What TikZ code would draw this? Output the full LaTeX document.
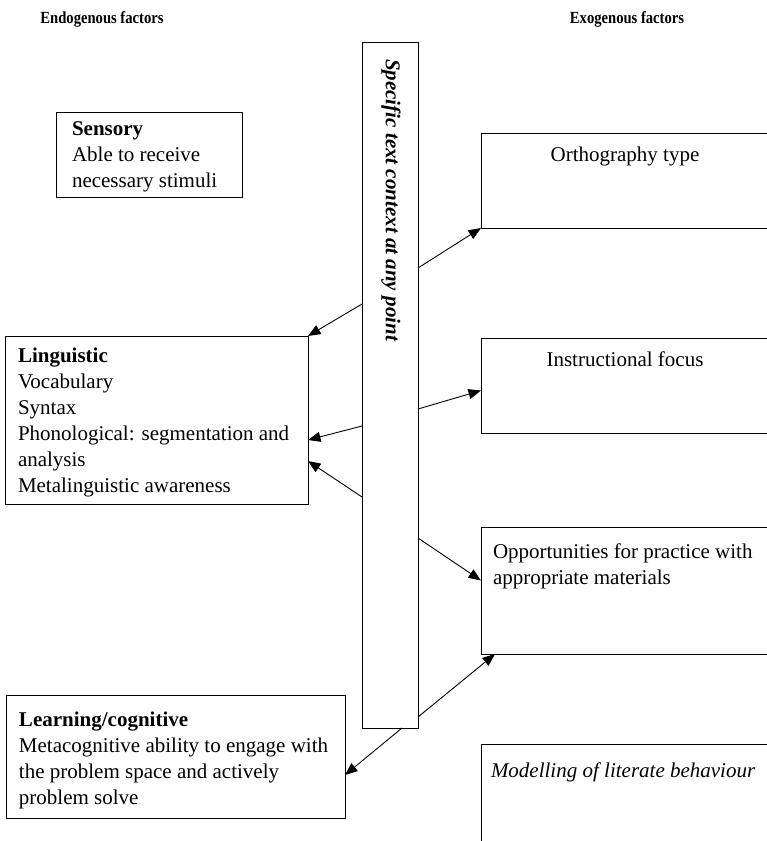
\documentclass[tikz,border=0pt]{standalone}
\usepackage{fontspec}
\setmainfont{Liberation Serif}
\newfontfamily\condfont[FakeStretch=0.86]{Liberation Serif}
\usetikzlibrary{arrows.meta,calc}
\begin{document}
\begin{tikzpicture}[x=1pt,y=-1pt,
  box/.style={draw,line width=0.9pt,inner sep=0pt,outer sep=0pt},
  txt/.style={inner sep=0pt,outer sep=0pt,align=left,anchor=north west,font=\fontsize{21}{26}\selectfont},
  ctxt/.style={inner sep=0pt,outer sep=0pt,anchor=base,font=\fontsize{21}{26}\selectfont},
  title/.style={inner sep=0pt,outer sep=0pt,anchor=base,font=\condfont\bfseries\fontsize{17}{20}\selectfont},
  conn/.style={line width=0.9pt,-{Triangle[length=12.5pt,width=10pt]}}]
\useasboundingbox (0,0) rectangle (767,841);
\clip (0,0) rectangle (767,841);
% titles
\node[title] (tendo) at (102,23) {Endogenous factors};
\node[title] (texo) at (627,23) {Exogenous factors};
% central bar
\node[box, minimum width=56pt, minimum height=686pt] (bar) at (390,385) {};
\node[inner sep=0pt, rotate=-90, font=\bfseries\itshape\fontsize{21}{26}\selectfont] (bartext) at (391,200) {Specific text context at any point};
% left boxes
\node[box, minimum width=186pt, minimum height=85pt] (sens) at (149,154.5) {};
\node[txt] (senst) at (72,120) {\rule{0pt}{15pt}\textbf{Sensory}\\Able to receive\\necessary stimuli};
\node[box, minimum width=303pt, minimum height=168pt] (ling) at (156.5,420) {};
\node[txt] (lingt) at (18,347) {\rule{0pt}{15pt}\textbf{Linguistic}\\Vocabulary\\Syntax\\Phonological: segmentation and\\analysis\\Metalinguistic awareness};
\node[box, minimum width=339pt, minimum height=123pt] (learn) at (175.5,756.5) {};
\node[txt] (learnt) at (19,711) {\rule{0pt}{15pt}\textbf{Learning/cognitive}\\Metacognitive ability to engage with\\the problem space and actively\\problem solve};
% right boxes
\node[box, minimum width=330pt, minimum height=95pt] (orth) at (646,180.5) {};
\node[ctxt] (ortht) at (625,161) {Orthography type};
\node[box, minimum width=330pt, minimum height=95pt] (instr) at (646,385.5) {};
\node[ctxt] (instrt) at (625,366) {Instructional focus};
\node[box, minimum width=330pt, minimum height=127pt] (opp) at (646,590.5) {};
\node[txt] (oppt) at (493,543) {\rule{0pt}{15pt}Opportunities for practice with\\appropriate materials};
\node[box, minimum width=330pt, minimum height=300pt] (model) at (646,894) {};
\node[txt] (modelt) at (491,762) {\rule{0pt}{15pt}\textit{Modelling of literate behaviour}};
% connectors
\draw[conn] ($(bar.north west)+(0,262)$) -- (ling.north east);
\draw[conn] ($(bar.north east)+(0,226)$) -- (orth.south west);
\draw[conn] ($(bar.north east)+(0,367)$) -- ($(instr.west)+(0,5)$);
\draw[conn] ($(bar.north west)+(0,384)$) -- ($(ling.east)+(0,20)$);
\draw[conn] ($(bar.north west)+(0,455)$) -- ($(ling.east)+(0,41)$);
\draw[conn] ($(bar.north east)+(0,496)$) -- ($(opp.west)+(0,-10)$);
\draw[conn] ($(bar.north east)+(0,675)$) -- ($(opp.south west)+(14,0)$);
\draw[conn] ($(bar.south)+(12,0)$) -- ($(learn.east)+(0,18.5)$);
\end{tikzpicture}
\end{document}
